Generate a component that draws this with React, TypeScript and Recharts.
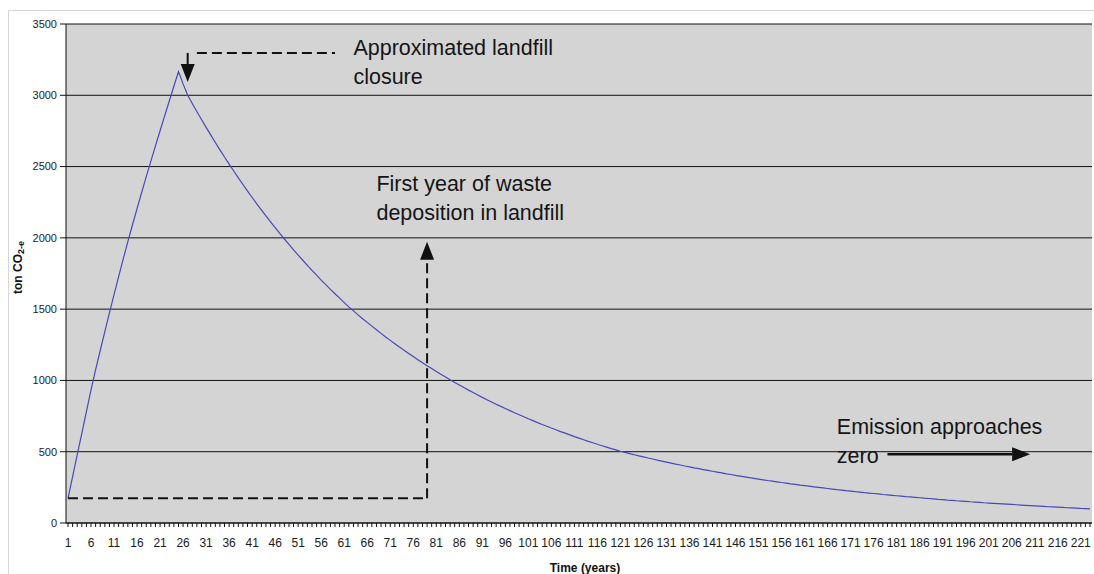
import {
  LineChart,
  Line,
  XAxis,
  YAxis,
  CartesianGrid,
  ReferenceLine,
  ReferenceDot,
} from 'recharts';

// ton CO2-e per year, years 1..223
const emissions = [
  173, 325, 477, 629, 781, 933, 1075, 1210, 1343, 1474,
  1602, 1728, 1852, 1973, 2090, 2205, 2318, 2429, 2538, 2645,
  2751, 2856, 2960, 3063, 3166, 3080, 3000, 2942, 2885, 2830,
  2775, 2722, 2669, 2617, 2567, 2517, 2469, 2421, 2374, 2328,
  2283, 2239, 2196, 2154, 2112, 2071, 2031, 1992, 1954, 1916,
  1879, 1843, 1807, 1772, 1738, 1704, 1672, 1639, 1608, 1577,
  1546, 1516, 1488, 1460, 1433, 1407, 1381, 1355, 1330, 1305,
  1281, 1257, 1234, 1211, 1189, 1167, 1145, 1124, 1103, 1083,
  1063, 1043, 1024, 1005, 986, 968, 950, 932, 915, 898,
  881, 865, 849, 833, 818, 803, 788, 773, 759, 745,
  731, 718, 704, 691, 679, 666, 654, 641, 630, 618,
  606, 595, 584, 573, 563, 552, 542, 532, 522, 513,
  503, 495, 487, 479, 471, 464, 456, 449, 441, 434,
  427, 420, 413, 407, 400, 394, 387, 381, 375, 369,
  363, 357, 351, 345, 340, 334, 329, 324, 318, 313,
  308, 303, 298, 294, 289, 284, 280, 275, 271, 266,
  262, 258, 254, 250, 246, 242, 238, 234, 231, 227,
  224, 220, 217, 213, 210, 207, 204, 200, 197, 194,
  191, 188, 185, 183, 180, 177, 174, 172, 169, 166,
  164, 161, 159, 156, 154, 152, 149, 147, 145, 142,
  140, 138, 136, 134, 132, 130, 128, 126, 124, 122,
  120, 118, 116, 114, 113, 111, 109, 107, 106, 104,
  102, 101, 99,
];

const yTicks = [0, 500, 1000, 1500, 2000, 2500, 3000, 3500];
const labelStep = 5;

interface Arrow {
  from: [number, number];
  to: [number, number];
  dashed: boolean;
  head: boolean;
  width: number;
}

// [year, ton CO2-e]
const arrows: Arrow[] = [
  { from: [27, 3297], to: [27, 3093], dashed: false, head: true, width: 2 },
  { from: [29, 3297], to: [59, 3297], dashed: true, head: false, width: 2 },
  { from: [1, 173], to: [79, 173], dashed: true, head: false, width: 2 },
  { from: [79, 173], to: [79, 1973], dashed: true, head: true, width: 2 },
  { from: [179, 482], to: [210, 482], dashed: false, head: true, width: 2.5 },
];

const notes = [
  { year: 63, value: 3282, lines: ['Approximated landfill', 'closure'] },
  { year: 68, value: 2331, lines: ['First year of waste', 'deposition in landfill'] },
  { year: 168, value: 622, lines: ['Emission approaches', 'zero'] },
];

const chartData = emissions.map((value, i) => ({ year: i + 1, value }));

const FONT = "'Liberation Sans', Arial, sans-serif";

const arrowShape = (a: Arrow) => (p: any) => {
  const { x1, y1, x2, y2 } = p;
  const len = Math.hypot(x2 - x1, y2 - y1) || 1;
  const ux = (x2 - x1) / len;
  const uy = (y2 - y1) / len;
  const hl = a.head ? 18 : 0;
  const hw = 7;
  const bx = x2 - ux * hl;
  const by = y2 - uy * hl;
  return (
    <g>
      <line
        x1={x1}
        y1={y1}
        x2={bx}
        y2={by}
        stroke="#111"
        strokeWidth={a.width}
        strokeDasharray={a.dashed ? '10 5' : undefined}
      />
      {a.head && (
        <polygon
          points={`${x2},${y2} ${bx - uy * hw},${by + ux * hw} ${bx + uy * hw},${by - ux * hw}`}
          fill="#111"
        />
      )}
    </g>
  );
};

const NoteText = ({ viewBox, lines }: any) => (
  <text x={viewBox.x} y={viewBox.y} fontSize={21.5} fill="#151515" fontFamily={FONT}>
    {lines.map((line: string, i: number) => (
      <tspan key={line} x={viewBox.x} dy={i ? 29 : 0}>
        {line}
      </tspan>
    ))}
  </text>
);

const YTitle = (p: any) => {
  const vb = p.viewBox;
  const cx = vb.x + 10;
  const cy = vb.y + vb.height / 2 - 6;
  return (
    <text
      x={cx}
      y={cy}
      transform={`rotate(-90 ${cx} ${cy})`}
      textAnchor="middle"
      dominantBaseline="central"
      fontSize={12}
      fontWeight="bold"
      fill="#111"
      fontFamily={FONT}
    >
      ton CO<tspan fontSize={9} dy={3}>2-e</tspan>
    </text>
  );
};

export default function App() {
  return (
    <div
      style={{
        position: 'absolute',
        top: 8,
        left: 8,
        width: 1086,
        height: 566,
        overflow: 'hidden',
        fontFamily: FONT,
        background: '#fff',
      }}
    >
      <div
        style={{
          position: 'absolute',
          top: 2,
          left: 0,
          width: 1200,
          height: 700,
          border: '1px solid #d6d6d6',
        }}
      />
      <div style={{ position: 'absolute', top: 0, left: 0 }}>
        <LineChart
          width={1086}
          height={566}
          data={chartData}
          margin={{ top: 16, right: 2, bottom: 0, left: 0 }}
        >
          <CartesianGrid
            vertical={false}
            stroke="#111"
            fill="#d4d4d4"
            fillOpacity={1}
          />
          <XAxis
            dataKey="year"
            interval={0}
            height={51}
            padding={{ left: 2, right: 2 }}
            stroke="#111"
            tickSize={4}
            tickMargin={11}
            tick={{
              fontSize: 12,
              fill: '#1a1a1a',
              fontFamily: "'Liberation Sans Narrow', 'Arial Narrow', 'Liberation Sans', Arial",
            }}
            tickFormatter={(v: number) => ((v - 1) % labelStep === 0 ? String(v) : '')}
            label={{
              value: 'Time (years)',
              position: 'insideBottom',
              offset: 2,
              dx: 6,
              fontSize: 12,
              fontWeight: 'bold',
              fill: '#111',
            }}
          />
          <YAxis
            width={58}
            domain={[0, 3500]}
            ticks={yTicks}
            interval={0}
            stroke="#111"
            tickSize={6}
            tickMargin={3}
            tick={{ fontSize: 11, fill: '#222', fontFamily: FONT }}
            label={{ content: YTitle }}
          />
          <Line
            type="linear"
            dataKey="value"
            stroke="#4848b8"
            strokeWidth={1.2}
            dot={false}
            activeDot={false}
            isAnimationActive={false}
          />
          {arrows.map((a, i) => (
            <ReferenceLine
              key={`arrow-${i}`}
              segment={[
                { x: a.from[0], y: a.from[1] },
                { x: a.to[0], y: a.to[1] },
              ]}
              ifOverflow="visible"
              shape={arrowShape(a)}
            />
          ))}
          {notes.map((n) => (
            <ReferenceDot
              key={n.lines[0]}
              x={n.year}
              y={n.value}
              r={0}
              fill="none"
              stroke="none"
              ifOverflow="visible"
              label={{ content: (p: any) => <NoteText viewBox={p.viewBox} lines={n.lines} /> }}
            />
          ))}
        </LineChart>
      </div>
    </div>
  );
}
